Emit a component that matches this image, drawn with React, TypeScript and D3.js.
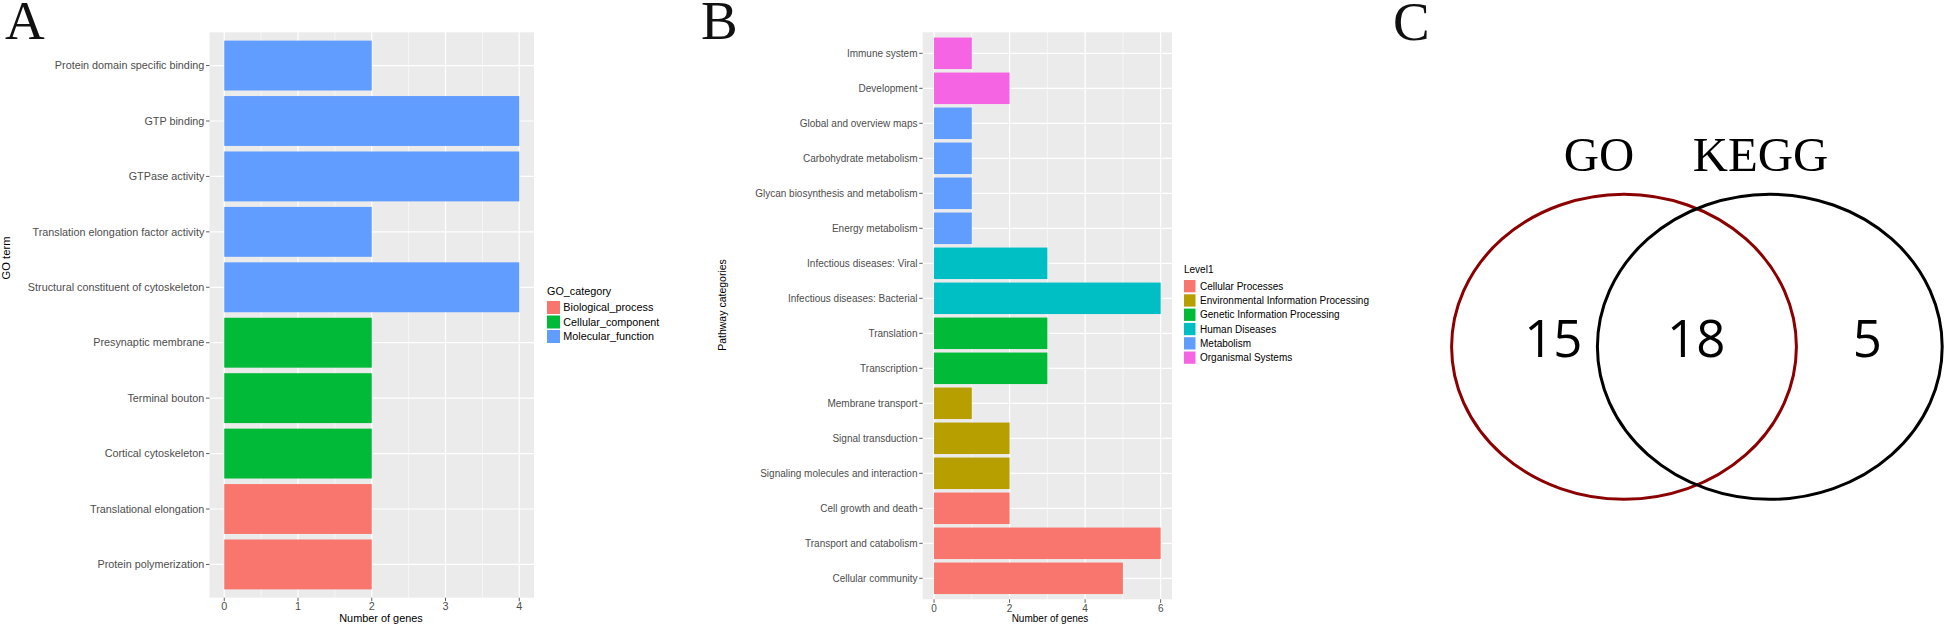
import React from 'react';
import * as d3 from 'd3';

// ---------- Panel A data (GO) ----------
const goTerms = [
  'Protein domain specific binding',
  'GTP binding',
  'GTPase activity',
  'Translation elongation factor activity',
  'Structural constituent of cytoskeleton',
  'Presynaptic membrane',
  'Terminal bouton',
  'Cortical cytoskeleton',
  'Translational elongation',
  'Protein polymerization',
];
const goCounts = [2, 4, 4, 2, 4, 2, 2, 2, 2, 2];
const goCategory = [
  'Molecular_function', 'Molecular_function', 'Molecular_function', 'Molecular_function', 'Molecular_function',
  'Cellular_component', 'Cellular_component', 'Cellular_component',
  'Biological_process', 'Biological_process',
];
const goLegendItems = ['Biological_process', 'Cellular_component', 'Molecular_function'];
const goLegendColors = ['#F8766D', '#00BA38', '#619CFF'];
const goTicks = [0, 1, 2, 3, 4];
const goMinor = [0.5, 1.5, 2.5, 3.5];

// ---------- Panel B data (KEGG) ----------
const keggPathways = [
  'Immune system',
  'Development',
  'Global and overview maps',
  'Carbohydrate metabolism',
  'Glycan biosynthesis and metabolism',
  'Energy metabolism',
  'Infectious diseases: Viral',
  'Infectious diseases: Bacterial',
  'Translation',
  'Transcription',
  'Membrane transport',
  'Signal transduction',
  'Signaling molecules and interaction',
  'Cell growth and death',
  'Transport and catabolism',
  'Cellular community',
];
const keggCounts = [1, 2, 1, 1, 1, 1, 3, 6, 3, 3, 1, 2, 2, 2, 6, 5];
const keggLevel1 = [
  'Organismal Systems', 'Organismal Systems',
  'Metabolism', 'Metabolism', 'Metabolism', 'Metabolism',
  'Human Diseases', 'Human Diseases',
  'Genetic Information Processing', 'Genetic Information Processing',
  'Environmental Information Processing', 'Environmental Information Processing', 'Environmental Information Processing',
  'Cellular Processes', 'Cellular Processes', 'Cellular Processes',
];
const keggLegendItems = [
  'Cellular Processes',
  'Environmental Information Processing',
  'Genetic Information Processing',
  'Human Diseases',
  'Metabolism',
  'Organismal Systems',
];
const keggLegendColors = ['#F8766D', '#B79F00', '#00BA38', '#00BFC4', '#619CFF', '#F564E3'];
const keggTicks = [0, 2, 4, 6];
const keggMinor = [1, 3, 5];

// ---------- Panel C data (Venn) ----------
const vennSets = ['GO', 'KEGG'];
const vennCounts = [15, 18, 5]; // GO only, both, KEGG only

const SANS = '"Liberation Sans", Arial, sans-serif';
const SERIF = '"Liberation Serif", "Times New Roman", serif';

type PanelProps = {
  labels: string[];
  values: number[];
  groups: string[];
  legendItems: string[];
  legendColors: string[];
  ticks: number[];
  minor: number[];
  xMax: number;
  x0: number; x1: number; y0: number; y1: number;
  fs: number;
  tickBaseline: number;
  xTitle: string; xTitleX: number; xTitleSize: number;
  yTitle: string; yTitleX: number; yTitleY: number; yTitleSize: number;
  legendTitle: string; legX: number; legTitleY: number; legKeyY: number;
  keyW: number; keyH: number; keyStep: number; legLabelX: number; legFs: number;
};

function BarPanel(p: PanelProps) {
  const x = d3.scaleLinear().domain([-0.05 * p.xMax, 1.05 * p.xMax]).range([p.x0, p.x1]);
  const y = d3.scalePoint<string>().domain(p.labels).range([p.y0, p.y1]).padding(0.6);
  const bh = y.step() * 0.9;
  const color = d3.scaleOrdinal<string, string>().domain(p.legendItems).range(p.legendColors);
  return (
    <g>
      <rect x={p.x0} y={p.y0} width={p.x1 - p.x0} height={p.y1 - p.y0} fill="#EBEBEB" />
      {p.minor.map((t) => (
        <line key={'mn' + t} x1={x(t)} x2={x(t)} y1={p.y0} y2={p.y1} stroke="#fff" strokeWidth={0.6} />
      ))}
      {p.ticks.map((t) => (
        <line key={'mj' + t} x1={x(t)} x2={x(t)} y1={p.y0} y2={p.y1} stroke="#fff" strokeWidth={1.2} />
      ))}
      {p.labels.map((l) => (
        <line key={'h' + l} x1={p.x0} x2={p.x1} y1={y(l)!} y2={y(l)!} stroke="#fff" strokeWidth={1.2} />
      ))}
      {p.labels.map((l, i) => (
        <rect key={'b' + l} x={x(0)} y={y(l)! - bh / 2} width={x(p.values[i]) - x(0)} height={bh} fill={color(p.groups[i])} />
      ))}
      {/* y axis ticks and labels */}
      {p.labels.map((l) => (
        <g key={'yl' + l}>
          <line x1={p.x0 - 3.5} x2={p.x0} y1={y(l)!} y2={y(l)!} stroke="#333" strokeWidth={0.8} />
          <text x={p.x0 - 5.2} y={y(l)!} dy="0.35em" textAnchor="end" fontFamily={SANS} fontSize={p.fs} fill="#4D4D4D">{l}</text>
        </g>
      ))}
      {/* x axis ticks and labels */}
      {p.ticks.map((t) => (
        <g key={'xt' + t}>
          <line x1={x(t)} x2={x(t)} y1={p.y1} y2={p.y1 + 3.5} stroke="#333" strokeWidth={0.8} />
          <text x={x(t)} y={p.tickBaseline} textAnchor="middle" fontFamily={SANS} fontSize={p.fs} fill="#4D4D4D">{t}</text>
        </g>
      ))}
      <text x={p.xTitleX} y={622} textAnchor="middle" fontFamily={SANS} fontSize={p.xTitleSize} fill="#000">{p.xTitle}</text>
      <text transform={`translate(${p.yTitleX},${p.yTitleY}) rotate(-90)`} dy="0.35em" textAnchor="middle" fontFamily={SANS} fontSize={p.yTitleSize} fill="#000">{p.yTitle}</text>
      {/* legend */}
      <text x={p.legX} y={p.legTitleY} fontFamily={SANS} fontSize={p.legFs} fill="#000">{p.legendTitle}</text>
      {p.legendItems.map((it, i) => (
        <g key={'lg' + it}>
          <rect x={p.legX} y={p.legKeyY + i * p.keyStep} width={p.keyW} height={p.keyH} fill={color(it)} />
          <text x={p.legLabelX} y={p.legKeyY + i * p.keyStep + p.keyH / 2} dy="0.35em" fontFamily={SANS} fontSize={p.legFs} fill="#000">{it}</text>
        </g>
      ))}
    </g>
  );
}

function Venn() {
  const cy = 346.8;
  const rx = 172.4;
  const ry = 152.5;
  const cxGO = 1624;
  const cxKEGG = 1769.8;
  const numX = d3.scaleOrdinal<number, number>().domain([0, 1, 2]).range([1553.3, 1696.2, 1867.3]);
  return (
    <g>
      <ellipse cx={cxGO} cy={cy} rx={rx} ry={ry} fill="none" stroke="#8B0000" strokeWidth={3} />
      <ellipse cx={cxKEGG} cy={cy} rx={rx} ry={ry} fill="none" stroke="#000" strokeWidth={3} />
      <text x={1599} y={170.7} textAnchor="middle" fontFamily={SERIF} fontSize={48.8} fill="#000">{vennSets[0]}</text>
      <text x={1760.5} y={170.7} textAnchor="middle" fontFamily={SERIF} fontSize={48.8} fill="#000">{vennSets[1]}</text>
      {vennCounts.map((c, i) => (
        <text key={'v' + i} x={numX(i)} y={356.7} textAnchor="middle" fontFamily='"Open Sans", "Noto Sans", sans-serif' fontSize={51} fill="#000">{c}</text>
      ))}
    </g>
  );
}

export default function App() {
  return (
    <svg width={1944} height={628} style={{ position: 'absolute', left: 0, top: 0, background: '#fff' }}>
      <rect x={0} y={0} width={1944} height={628} fill="#fff" />
      <BarPanel
        labels={goTerms} values={goCounts} groups={goCategory}
        legendItems={goLegendItems} legendColors={goLegendColors}
        ticks={goTicks} minor={goMinor} xMax={4}
        x0={209.5} x1={534} y0={32.3} y1={597.7} fs={10.8} tickBaseline={610}
        xTitle="Number of genes" xTitleX={381} xTitleSize={10.9}
        yTitle="GO term" yTitleX={6.5} yTitleY={258} yTitleSize={11.2}
        legendTitle="GO_category" legX={547} legTitleY={294.5} legKeyY={301}
        keyW={13} keyH={13} keyStep={14.5} legLabelX={563.3} legFs={10.8}
      />
      <BarPanel
        labels={keggPathways} values={keggCounts} groups={keggLevel1}
        legendItems={keggLegendItems} legendColors={keggLegendColors}
        ticks={keggTicks} minor={keggMinor} xMax={6}
        x0={922.7} x1={1172} y0={32.3} y1={599.3} fs={10} tickBaseline={611.5}
        xTitle="Number of genes" xTitleX={1050} xTitleSize={10}
        yTitle="Pathway categories" yTitleX={722.5} yTitleY={305} yTitleSize={10.5}
        legendTitle="Level1" legX={1184} legTitleY={273} legKeyY={280}
        keyW={11.5} keyH={12.3} keyStep={14.3} legLabelX={1200} legFs={10}
      />
      <Venn />
      <text x={5} y={39} fontFamily={SERIF} fontSize={55} fill="#111">A</text>
      <text x={701} y={39} fontFamily={SERIF} fontSize={55} fill="#111">B</text>
      <text x={1393} y={39.5} fontFamily={SERIF} fontSize={55} fill="#111">C</text>
    </svg>
  );
}
